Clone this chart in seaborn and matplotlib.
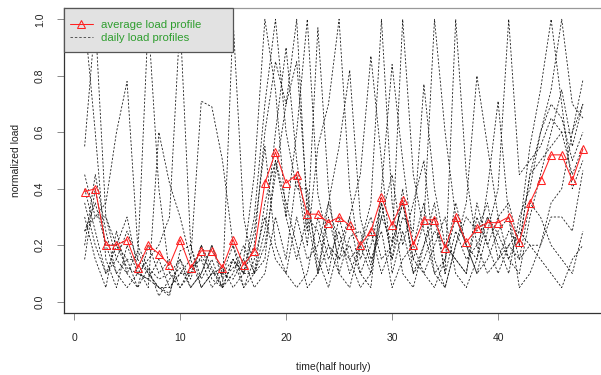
import numpy as np
import pandas as pd
import matplotlib
matplotlib.use("Agg")
import matplotlib.pyplot as plt
from matplotlib.lines import Line2D
from matplotlib.patches import Rectangle
import seaborn as sns

time = list(range(1, 49))

avg_profile = [0.39, 0.40, 0.20, 0.20, 0.22, 0.12, 0.20, 0.17, 0.13, 0.22, 0.12, 0.18,
               0.18, 0.12, 0.22, 0.13, 0.18, 0.42, 0.53, 0.42, 0.45, 0.31, 0.31, 0.28,
               0.30, 0.27, 0.20, 0.25, 0.37, 0.27, 0.36, 0.20, 0.29, 0.29, 0.19, 0.30,
               0.21, 0.26, 0.28, 0.28, 0.30, 0.21, 0.35, 0.43, 0.52, 0.52, 0.43, 0.54]

day1 = [1.0, 0.6, 0.15, 0.05, 0.2, 0.1, 0.08, 0.15, 0.05, 0.1, 0.15, 0.05, 0.1, 0.12, 0.05, 0.1,
        0.2, 0.6, 0.85, 0.7, 1.0, 0.3, 0.1, 0.2, 0.15, 0.3, 0.1, 0.2, 0.35, 0.15, 0.4, 0.1,
        0.2, 0.3, 0.1, 1.0, 0.45, 0.2, 0.1, 0.15, 0.25, 0.2, 0.45, 0.6, 0.7, 0.65, 0.5, 0.6]
day2 = [0.55, 1.0, 0.3, 0.15, 0.1, 0.05, 0.2, 0.1, 0.15, 0.05, 0.1, 0.2, 0.08, 0.05, 0.15, 0.05,
        0.1, 0.25, 0.6, 0.9, 0.5, 0.25, 0.97, 0.4, 0.1, 0.05, 0.2, 0.1, 0.3, 0.45, 0.2, 0.35,
        0.5, 0.15, 0.05, 0.2, 0.35, 0.8, 0.55, 0.3, 0.15, 0.1, 0.3, 0.45, 0.6, 0.75, 0.55, 0.7]
day3 = [0.25, 0.3, 0.35, 0.6, 0.78, 0.2, 0.12, 0.08, 0.1, 0.15, 0.05, 0.1, 0.2, 0.08, 0.12, 0.15,
        0.05, 0.1, 0.3, 0.15, 0.45, 0.2, 0.55, 0.7, 1.0, 0.4, 0.15, 0.25, 0.1, 0.2, 0.35, 0.15,
        0.1, 0.2, 0.3, 0.1, 0.05, 0.15, 0.4, 0.71, 0.3, 0.15, 0.2, 0.15, 0.1, 0.05, 0.15, 0.2]
day4 = [0.35, 0.2, 0.1, 0.15, 0.25, 0.15, 1.0, 0.4, 0.1, 0.05, 0.12, 0.15, 0.05, 0.1, 0.2, 0.1,
        0.25, 0.55, 0.2, 0.1, 0.3, 0.15, 0.2, 0.35, 0.55, 0.82, 0.3, 0.15, 0.25, 0.05, 0.15, 0.2,
        0.35, 0.1, 0.15, 0.3, 0.2, 0.1, 0.25, 0.4, 1.0, 0.45, 0.5, 0.55, 0.65, 0.6, 0.45, 0.55]
day5 = [0.15, 0.4, 0.2, 0.1, 0.05, 0.1, 0.15, 0.2, 0.3, 1.0, 0.2, 0.08, 0.15, 0.05, 0.1, 0.2,
        0.1, 0.2, 0.45, 0.7, 0.85, 0.35, 0.15, 0.05, 0.2, 0.3, 0.45, 0.87, 0.5, 0.1, 0.25, 0.1,
        0.15, 0.25, 0.2, 0.15, 0.1, 0.35, 0.2, 0.1, 0.2, 0.25, 0.55, 0.75, 1.0, 0.7, 0.4, 0.5]
day6 = [0.4, 0.25, 0.1, 0.2, 0.3, 0.12, 0.05, 0.6, 0.42, 0.3, 0.15, 0.71, 0.69, 0.5, 0.2, 0.05,
        0.15, 0.3, 0.15, 0.1, 0.05, 0.1, 0.3, 0.15, 0.25, 0.1, 0.2, 0.35, 1.0, 0.35, 0.1, 0.05,
        0.2, 0.35, 0.1, 0.25, 0.15, 0.2, 0.3, 0.2, 0.1, 0.3, 0.4, 0.6, 0.75, 1.0, 0.7, 0.65]
day7 = [0.3, 0.15, 0.05, 0.25, 0.1, 0.18, 0.1, 0.05, 0.03, 0.15, 0.08, 0.2, 0.12, 0.05, 1.0, 0.3,
        0.1, 0.15, 0.5, 0.35, 0.2, 0.05, 0.1, 0.3, 0.15, 0.2, 0.1, 0.05, 0.4, 0.84, 0.5, 0.2,
        0.1, 0.05, 0.15, 0.35, 0.2, 0.1, 0.15, 0.25, 0.3, 0.05, 0.1, 0.2, 0.35, 0.4, 0.6, 0.785]
day8 = [0.2, 0.45, 0.25, 0.1, 0.15, 0.05, 0.12, 0.02, 0.08, 0.12, 0.05, 0.1, 0.2, 0.1, 0.08, 0.15,
        0.45, 1.0, 0.75, 0.3, 0.15, 0.3, 0.25, 0.1, 0.3, 0.15, 0.2, 0.3, 0.15, 0.2, 1.0, 0.45,
        0.25, 0.1, 0.05, 0.2, 0.3, 0.25, 0.35, 0.15, 0.2, 0.15, 0.35, 0.3, 0.2, 0.15, 0.1, 0.25]
day9 = [0.45, 0.3, 0.3, 0.2, 0.12, 0.1, 0.08, 0.05, 0.02, 0.18, 0.2, 0.05, 0.1, 0.1, 0.15, 0.1,
        0.3, 0.7, 1.0, 0.6, 0.4, 0.4, 0.1, 0.35, 0.2, 0.15, 0.05, 0.1, 0.35, 0.15, 0.3, 0.25,
        0.77, 0.4, 0.2, 0.15, 0.1, 0.3, 0.2, 0.3, 0.35, 0.2, 0.45, 0.5, 0.55, 0.6, 0.6, 0.7]
day10 = [0.25, 0.35, 0.2, 0.2, 0.15, 0.15, 0.1, 0.05, 0.05, 0.1, 0.1, 0.16, 0.11, 0.05, 0.15, 0.1,
         0.1, 0.35, 0.5, 0.3, 0.6, 1.0, 0.38, 0.2, 0.1, 0.23, 0.25, 0.13, 0.3, 0.21, 0.35, 0.15,
         0.28, 1.0, 0.6, 0.3, 0.2, 0.15, 0.3, 0.24, 0.15, 0.25, 0.2, 0.2, 0.3, 0.3, 0.25, 0.465]

days = [day1, day2, day3, day4, day5, day6, day7, day8, day9, day10]

x_ticks = [0, 10, 20, 30, 40]
y_ticks = [0.0, 0.2, 0.4, 0.6, 0.8, 1.0]
y_ticklabels = ["0.0", "0.2", "0.4", "0.6", "0.8", "1.0"]
legend_labels = ["average load profile", "daily load profiles"]

rows = []
for i, d in enumerate(days):
    for t, v in zip(time, d):
        rows.append({"day": i + 1, "time": t, "load": v})
df = pd.DataFrame(rows)
df_avg = pd.DataFrame({"time": time, "load": avg_profile})

sns.set_theme(style="white")
plt.rcParams["font.family"] = ["Liberation Sans", "DejaVu Sans"]

W, H = 601, 375
fig = plt.figure(figsize=(W / 100, H / 100), dpi=100)
ax = fig.add_axes([64.3 / W, 1 - 313.3 / H, (602 - 64.3) / W, (313.3 - 8) / H])

DASH = (0, (2.5, 2.0))
sns.lineplot(data=df, x="time", y="load", units="day", estimator=None,
             color="#1a1a1a", linewidth=0.6, ax=ax, legend=False)
for line in ax.lines:
    line.set_linestyle(DASH)

sns.lineplot(data=df_avg, x="time", y="load", color="#ff2020", linewidth=0.75,
             marker="^", markersize=5.8, markerfacecolor="none",
             markeredgecolor="#ff2020", markeredgewidth=0.75, ax=ax, legend=False)

ax.set_xlim(-0.92, 49.8)
ax.set_ylim(-0.041, 1.04)
ax.set_xticks(x_ticks)
ax.set_xticklabels([str(v) for v in x_ticks], fontsize=7.5, color="#222222")
ax.set_yticks(y_ticks)
ax.set_yticklabels(y_ticklabels, fontsize=7.5, color="#222222", rotation=90, va="center")
ax.tick_params(axis="both", which="major", direction="out", length=5, width=0.6,
               color="#777777", pad=9, bottom=True, left=True)
ax.set_xlabel("time(half hourly)", fontsize=7.5, color="#222222", labelpad=14)
ax.set_ylabel("normalized load", fontsize=7.5, color="#222222", labelpad=10)

for s in ["left", "bottom"]:
    ax.spines[s].set_color("#333333")
    ax.spines[s].set_linewidth(0.9)
ax.spines["top"].set_color("#999999")
ax.spines["top"].set_linewidth(0.9)
ax.spines["right"].set_visible(False)

# legend box (R style)
box = Rectangle((64.3 / W, 1 - 52 / H), (233 - 64.3) / W, (52 - 8) / H,
                transform=fig.transFigure, facecolor="#e2e2e2", edgecolor="#555555",
                linewidth=0.9, zorder=5)
fig.patches.append(box)

handles = [
    Line2D([0], [0], color="#ff2020", linewidth=0.75, marker="^", markersize=5.8,
           markerfacecolor="none", markeredgecolor="#ff2020", markeredgewidth=0.75),
    Line2D([0], [0], color="#555555", linewidth=0.7, linestyle=DASH),
]
leg = fig.legend(handles, legend_labels, loc="upper left",
                 bbox_to_anchor=(70 / W, 1 - 19.5 / H), borderaxespad=0, borderpad=0,
                 fontsize=8.2, frameon=False, handlelength=2.0,
                 handletextpad=0.75, labelspacing=0.35,
                 labelcolor="#2f9e2f")
leg.set_zorder(6)

fig.savefig("out.png", dpi=100)
